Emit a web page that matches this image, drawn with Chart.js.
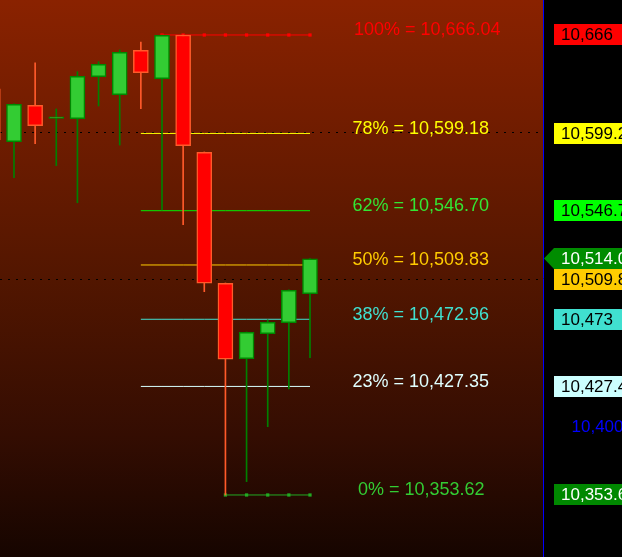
<!DOCTYPE html>
<html>
<head>
<meta charset="utf-8">
<script src="https://cdn.jsdelivr.net/npm/chart.js@4.4.1/dist/chart.umd.min.js"></script>
<style>
  html, body { margin: 0; padding: 0; background: #000; }
  #wrap { width: 622px; height: 557px; }
</style>
</head>
<body>
<div id="wrap"><canvas id="chart" width="622" height="557"></canvas></div>
<script>
// Candles (index -1 is cut off at the left edge)
const candleIdx = [-1, 0, 1, 2, 3, 4, 5, 6, 7, 8, 9, 10, 11, 12, 13, 14];
const opens  = [10629.4, 10593.6, 10618.3, 10609.3, 10609.2, 10637.7, 10625.5, 10655.6, 10636.4, 10666.0, 10586.4, 10497.4, 10446.2, 10463.2, 10470.6, 10490.3];
const highs  = [10633.0, 10619.3, 10647.2, 10615.8, 10641.1, 10647.9, 10655.9, 10661.3, 10666.0, 10666.04, 10586.6, 10497.6, 10464.3, 10472.5, 10493.0, 10514.2];
const lows   = [10590.0, 10569.1, 10592.2, 10577.3, 10552.1, 10617.8, 10591.3, 10616.0, 10547.2, 10537.2, 10491.7, 10353.62, 10362.7, 10400.0, 10425.6, 10446.9];
const closes = [10594.7, 10619.0, 10604.4, 10610.4, 10638.0, 10646.1, 10654.3, 10640.4, 10665.8, 10590.9, 10497.4, 10445.8, 10464.1, 10470.9, 10492.7, 10514.0];

// Fibonacci levels
const levelPct    = ['100%', '78%', '62%', '50%', '38%', '23%', '0%'];
const levelValues = [10666.04, 10599.18, 10546.70, 10509.83, 10472.96, 10427.35, 10353.62];
const levelFrom   = [7, 6, 6, 6, 6, 6, 10];   // first candle the level line starts on
const levelTo     = 14;
const levelLineColors = ['#ff0000', '#ffff00', '#00ee00', '#ffcc00', '#40e0d0', '#d8ffff', '#22aa22'];
const levelTextColors = ['#ff0000', '#ffff00', '#33e633', '#ffcc00', '#40e0d0', '#e0ffff', '#33cc33'];

// Price labels on the right axis
const axisValues = [10666.04, 10599.18, 10546.70, 10514.0, 10509.83, 10472.96, 10427.35, 10353.62];
const axisTexts  = ['10,666', '10,599.2', '10,546.7', '10,514.0', '10,509.8', '10,473', '10,427.4', '10,353.6'];
const axisBoxColors  = ['#ff0000', '#ffff00', '#00ff00', '#008c00', '#ffcc00', '#40e0d0', '#ccffff', '#008800'];
const axisTextColors = ['#000', '#000', '#000', '#fff', '#000', '#000', '#000', '#fff'];
const currentPrice = 10514.0;
const yTicks = [10400];
const yTickLabels = ['10,400'];
const gridValues = [10600, 10500];

const FONT = '"Liberation Sans", Arial, sans-serif';
const fmt = v => v.toLocaleString('en-US', { minimumFractionDigits: 2, maximumFractionDigits: 2 });

const isUp = i => closes[i] >= opens[i];

// Background gradient behind the plot
const backgroundPlugin = {
    id: 'bg',
    beforeDraw(chart) {
        const { ctx, chartArea: a } = chart;
        ctx.save();
        ctx.fillStyle = '#000';
        ctx.fillRect(0, 0, chart.width, chart.height);
        const g = ctx.createLinearGradient(0, a.top, 0, a.bottom);
        g.addColorStop(0, 'rgb(138,34,0)');
        g.addColorStop(0.5, 'rgb(82,22,0)');
        g.addColorStop(0.78, 'rgb(52,13,2)');
        g.addColorStop(1, 'rgb(22,5,0)');
        ctx.fillStyle = g;
        ctx.fillRect(a.left, a.top, a.right - a.left, a.bottom - a.top);
        ctx.restore();
    }
};

// Fib level texts
const levelTextPlugin = {
    id: 'levelText',
    afterDatasetsDraw(chart) {
        const { ctx, scales: { y } } = chart;
        const leftX = { '100%': 354, '0%': 358 };
        ctx.save();
        ctx.font = '18px ' + FONT;
        ctx.textAlign = 'left';
        ctx.textBaseline = 'alphabetic';
        levelPct.forEach((p, k) => {
            ctx.fillStyle = levelTextColors[k];
            ctx.fillText(p + ' = ' + fmt(levelValues[k]), leftX[p] || 352.5, y.getPixelForValue(levelValues[k]) + 0.5);
        });
        ctx.restore();
    }
};

// Coloured price boxes + blue tick text on the right axis
const axisLabelPlugin = {
    id: 'axisLabels',
    afterDraw(chart) {
        const { ctx, chartArea: a, scales: { y } } = chart;
        const h = 21;
        ctx.save();

        // axis line
        ctx.strokeStyle = '#0000ff';
        ctx.lineWidth = 1;
        ctx.beginPath();
        ctx.moveTo(Math.round(a.right) + 0.5, 0);
        ctx.lineTo(Math.round(a.right) + 0.5, chart.height);
        ctx.stroke();

        ctx.font = '17px ' + FONT;
        ctx.textBaseline = 'middle';
        ctx.textAlign = 'left';

        ctx.fillStyle = '#0000ff';
        yTicks.forEach((v, i) => ctx.fillText(yTickLabels[i], 571.5, y.getPixelForValue(v) + 1));

        const items = axisValues.map((v, i) => ({ i, yc: y.getPixelForValue(v) }))
            .sort((a, b) => a.yc - b.yc);
        let prevBottom = -Infinity;
        items.forEach(it => {
            let top = Math.round(it.yc - h / 2);
            if (top < prevBottom) top = prevBottom;
            prevBottom = top + h;
            ctx.fillStyle = axisBoxColors[it.i];
            ctx.fillRect(554, top, 80, h);
            if (axisValues[it.i] === currentPrice) {
                ctx.beginPath();
                ctx.moveTo(544, top + h / 2);
                ctx.lineTo(554, top);
                ctx.lineTo(554, top + h);
                ctx.closePath();
                ctx.fill();
            }
            ctx.fillStyle = axisTextColors[it.i];
            ctx.fillText(axisTexts[it.i], 561, top + h / 2 + 1);
        });
        ctx.restore();
    }
};

const wickData = candleIdx.map((x, i) => ({ x, y: [lows[i], highs[i]] }));
const bodyData = candleIdx.map((x, i) => ({ x, y: [opens[i], closes[i]] }));

const levelDatasets = levelValues.map((v, k) => {
    const pts = [];
    for (let x = levelFrom[k]; x <= levelTo; x++) pts.push({ x, y: v });
    const markers = k === 0 || k === levelValues.length - 1;
    return {
        type: 'line',
        data: pts,
        borderColor: levelLineColors[k],
        backgroundColor: levelLineColors[k],
        borderWidth: 1,
        pointStyle: 'rect',
        pointRadius: markers ? 2.3 : 0,
        pointBorderWidth: 0,
        order: 3
    };
});

new Chart(document.getElementById('chart'), {
    type: 'bar',
    data: {
        datasets: [
            ...levelDatasets,
            {
                data: wickData,
                backgroundColor: ctx => isUp(ctx.dataIndex) ? '#008000' : '#ff5a2a',
                barThickness: 1,
                grouped: false,
                borderWidth: 0,
                order: 2
            },
            {
                data: bodyData,
                backgroundColor: ctx => isUp(ctx.dataIndex) ? '#33cc33' : '#ff0000',
                borderColor: ctx => isUp(ctx.dataIndex) ? '#008800' : '#ff5a2a',
                borderWidth: 1.5,
                borderSkipped: false,
                barThickness: 15,
                grouped: false,
                order: 1
            }
        ]
    },
    options: {
        responsive: false,
        animation: false,
        layout: { padding: 0, autoPadding: false },
        plugins: {
            legend: { display: false },
            tooltip: { enabled: false }
        },
        scales: {
            x: {
                type: 'linear',
                display: false,
                min: -0.662,
                max: 25.02,
                offset: false
            },
            y: {
                position: 'right',
                min: 10311.5,
                max: 10689.8,
                afterFit: s => { s.width = 79; },
                ticks: { stepSize: 100, display: false },
                grid: {
                    drawTicks: false,
                    lineWidth: 1,
                    color: ctx => {
                        const v = ctx.tick ? ctx.tick.value : 0;
                        return gridValues.some(g => Math.abs(v - g) < 1) ? '#000' : 'rgba(0,0,0,0)';
                    }
                },
                border: { display: false, dash: [2, 6] }
            }
        }
    },
    plugins: [backgroundPlugin, levelTextPlugin, axisLabelPlugin]
});
</script>
</body>
</html>
